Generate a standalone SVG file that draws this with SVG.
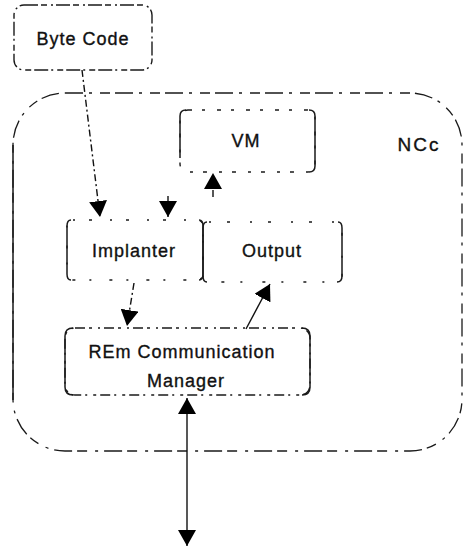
<svg xmlns="http://www.w3.org/2000/svg" width="464" height="549" viewBox="0 0 464 549">
<defs>
<style>
.box{fill:none;stroke:#1a1a1a;stroke-width:1.4;stroke-dasharray:14 3 6 4 2 3;}
.side{fill:none;stroke:#1a1a1a;stroke-width:1.5;}
.outer{fill:none;stroke:#1a1a1a;stroke-width:1.3;stroke-dasharray:18 6 3 8 10 5;}
.lbl{font-family:"Liberation Sans",Arial,sans-serif;font-size:18px;letter-spacing:1px;fill:#111;stroke:#111;stroke-width:0.35;text-anchor:middle;}
.conn{fill:none;stroke:#111;stroke-width:1.4;}
.dash{stroke-dasharray:7 3 2 3;}
</style>
<marker id="ah" viewBox="0 0 16 18" refX="16" refY="9" markerWidth="16" markerHeight="18" markerUnits="userSpaceOnUse" orient="auto-start-reverse">
<path d="M0,0 L16,9 L0,18 Z" fill="#000"/>
</marker>
</defs>
<rect width="464" height="549" fill="#fff"/>

<g id="ncc">
<rect class="outer" x="13" y="93" width="449" height="358" rx="52"/>
<path class="side" d="M13,145 V400"/>
<text class="lbl" x="419" y="151" style="font-size:19px;letter-spacing:2px">NCc</text>
</g>

<g id="bytecode">
<rect class="box" x="14" y="5" width="138" height="65" rx="10"/>
<text class="lbl" x="83" y="45">Byte Code</text>
</g>

<g id="vm">
<rect class="box" x="180" y="110" width="135" height="62" rx="8" style="stroke-dasharray:4 10 3 12"/>
<path class="side" d="M186,110 Q180,110 180,116 V158 M309,110 Q315,110 315,116 V166 Q315,172 309,172"/>
<text class="lbl" x="246" y="147">VM</text>
</g>

<g id="implanter">
<rect class="box" x="67" y="220" width="136" height="60" rx="6" style="stroke-dasharray:2 14 3 18"/>
<path class="side" d="M71,220 Q67,220 67,226 V274 Q67,280 71,280 M199,220 Q203,220 203,226 V274 Q203,280 199,280"/>
<text class="lbl" x="134" y="257">Implanter</text>
</g>

<g id="output">
<rect class="box" x="203" y="222" width="139" height="60" rx="6" style="stroke-dasharray:2 16 3 20"/>
<path class="side" d="M207,222 Q203,222 203,228 V276 Q203,282 207,282 M338,222 Q342,222 342,228 V276 Q342,282 337,282"/>
<text class="lbl" x="272" y="257">Output</text>
</g>

<g id="rem">
<rect class="box" x="65" y="328" width="245" height="67" rx="10" style="stroke-dasharray:10 4 3 6 2 4"/>
<path class="side" d="M73,328 Q65,328 65,336 V387 Q65,395 73,395 M302,328 Q310,328 310,336 V387 Q310,395 302,395"/>
<text class="lbl" x="182" y="358">REm Communication</text>
<text class="lbl" x="186" y="387">Manager</text>
</g>

<g id="connectors">
<path class="conn dash" d="M82,70 L100,217" marker-end="url(#ah)"/>
<path class="conn dash" d="M168,196 L168,217" marker-end="url(#ah)"/>
<path class="conn dash" d="M213,197 L213,173" marker-end="url(#ah)"/>
<path class="conn dash" d="M134,283 L127,326" marker-end="url(#ah)"/>
<path class="conn" d="M246,329 L270,284" marker-end="url(#ah)"/>
<path class="conn" d="M187,398 L187,546" marker-start="url(#ah)" marker-end="url(#ah)"/>
</g>
</svg>
